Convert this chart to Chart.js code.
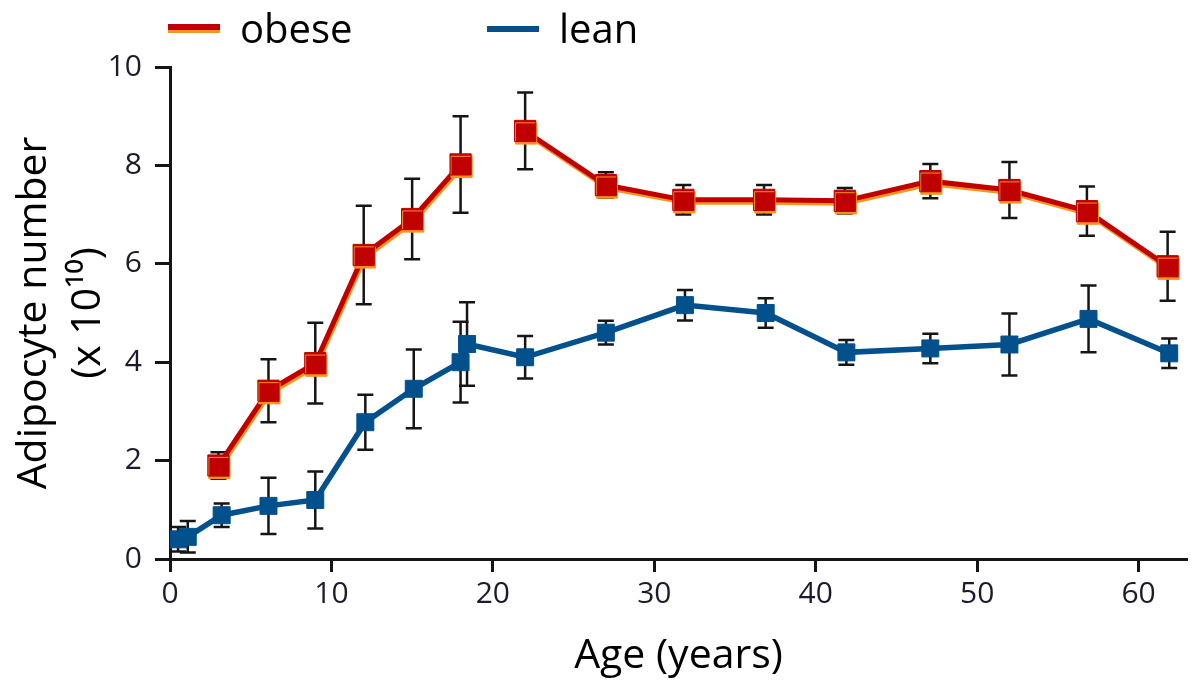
<!DOCTYPE html>
<html>
<head>
<meta charset="utf-8">
<script src="https://cdn.jsdelivr.net/npm/chart.js@4.4.0/dist/chart.umd.min.js"></script>
<style>
  body { margin: 0; background: #fff; }
  #wrap { width: 1203px; height: 681px; }
</style>
</head>
<body>
<div id="wrap"><canvas id="adipo"></canvas></div>
<script>
const obeseAge = [3, 6.1, 9, 12, 15, 18, 20, 22, 27, 31.8, 36.8, 41.8, 47.1, 52, 56.8, 61.8];
const obeseVal = [1.9, 3.42, 3.98, 6.18, 6.91, 8.02, null, 8.7, 7.6, 7.3, 7.3, 7.28, 7.68, 7.5, 7.07, 5.95];
const obeseErr = [0.27, 0.64, 0.82, 1.0, 0.82, 0.98, null, 0.78, 0.26, 0.3, 0.3, 0.26, 0.35, 0.57, 0.5, 0.7];

const leanAge = [0.5, 1.1, 3.2, 6.1, 9, 12.1, 15.1, 18, 18.4, 22, 27, 31.9, 36.9, 41.9, 47.1, 52, 56.9, 61.9];
const leanVal = [0.4, 0.45, 0.89, 1.08, 1.2, 2.78, 3.46, 4.0, 4.37, 4.1, 4.6, 5.16, 5.0, 4.2, 4.28, 4.36, 4.88, 4.18];
const leanErr = [0.25, 0.32, 0.24, 0.57, 0.58, 0.56, 0.8, 0.82, 0.85, 0.43, 0.24, 0.31, 0.3, 0.25, 0.3, 0.63, 0.68, 0.3];

const xTicks = [0, 10, 20, 30, 40, 50, 60];
const yTicks = [0, 2, 4, 6, 8, 10];

const RED = '#C00000';
const ORANGE = '#F7941D';
const BLUE = '#02508C';
const INK = '#151515';
const FONT = "'Open Sans', 'Noto Sans', sans-serif";

function points(ages, vals) {
    return ages.map((a, i) => ({x: a, y: vals[i]}));
}

// error bars, drawn under the lines and markers
const errorBars = {
    id: 'errorBars',
    beforeDatasetsDraw(chart) {
        const ctx = chart.ctx;
        const xs = chart.scales.x, ys = chart.scales.y;
        const sets = [[obeseAge, obeseVal, obeseErr], [leanAge, leanVal, leanErr]];
        ctx.save();
        ctx.strokeStyle = INK;
        ctx.lineWidth = 2.5;
        sets.forEach(([ages, vals, errs]) => {
            ages.forEach((a, i) => {
                if (vals[i] == null) return;
                const px = xs.getPixelForValue(a);
                const top = ys.getPixelForValue(vals[i] + errs[i]);
                const bot = ys.getPixelForValue(vals[i] - errs[i]);
                ctx.beginPath();
                ctx.moveTo(px, top); ctx.lineTo(px, bot);
                ctx.moveTo(px - 8, top); ctx.lineTo(px + 8, top);
                ctx.moveTo(px - 8, bot); ctx.lineTo(px + 8, bot);
                ctx.stroke();
            });
        });
        ctx.restore();
    }
};

// orange edge under the obese series
const orangeEdge = {
    id: 'orangeEdge',
    beforeDatasetDraw(chart, args) {
        if (args.index !== 0) return;
        const ctx = chart.ctx;
        ctx.save();
        ctx.shadowColor = ORANGE;
        ctx.shadowOffsetX = 1;
        ctx.shadowOffsetY = 2.5;
        ctx.shadowBlur = 0;
    },
    afterDatasetDraw(chart, args) {
        if (args.index !== 0) return;
        chart.ctx.restore();
    }
};

// legend above the plot, left aligned as in the figure
const topLegend = {
    id: 'topLegend',
    afterDraw(chart) {
        const ctx = chart.ctx;
        const spots = [168, 487];
        ctx.save();
        chart.data.datasets.forEach((ds, i) => {
            const x = spots[i];
            if (i === 0) {
                ctx.fillStyle = ORANGE;
                ctx.fillRect(x, 27, 52, 6);
            }
            ctx.fillStyle = ds.borderColor;
            ctx.fillRect(x, i === 0 ? 24 : 26, 52, 6);
            ctx.fillStyle = '#000';
            ctx.font = '40px ' + FONT;
            ctx.textBaseline = 'alphabetic';
            ctx.fillText(ds.label, x + 72, 43);
        });
        ctx.restore();
    }
};

new Chart(document.getElementById('adipo'), {
    type: 'line',
    data: {
        datasets: [
            {
                label: 'obese',
                data: points(obeseAge, obeseVal),
                borderColor: RED,
                backgroundColor: RED,
                borderWidth: 5,
                pointStyle: 'rect',
                pointRadius: 15,
                pointBorderWidth: 1,
                pointBorderColor: RED,
                pointBackgroundColor: RED,
                spanGaps: false,
                tension: 0
            },
            {
                label: 'lean',
                data: points(leanAge, leanVal),
                borderColor: BLUE,
                backgroundColor: BLUE,
                borderWidth: 5.5,
                pointStyle: 'rect',
                pointRadius: 12,
                pointBorderWidth: 1,
                pointBorderColor: BLUE,
                pointBackgroundColor: BLUE,
                tension: 0
            }
        ]
    },
    options: {
        responsive: true,
        maintainAspectRatio: false,
        animation: false,
        events: [],
        layout: {
            padding: {top: 67, left: 0, right: 0, bottom: 0}
        },
        plugins: {
            legend: {display: false},
            tooltip: {enabled: false}
        },
        scales: {
            x: {
                type: 'linear',
                min: 0,
                max: 63,
                afterBuildTicks: (s) => { s.ticks = xTicks.map(v => ({value: v})); },
                afterFit: (s) => { s.height = 122; },
                grid: {
                    drawOnChartArea: false,
                    drawTicks: true,
                    tickLength: 13,
                    tickColor: INK,
                    tickWidth: 3
                },
                border: {display: true, color: INK, width: 3},
                ticks: {
                    color: '#1b1b2b',
                    padding: 4,
                    font: {family: FONT, size: 30}
                },
                title: {
                    display: true,
                    text: 'Age (years)',
                    color: '#000',
                    padding: {top: 0, bottom: 0},
                    font: {family: FONT, size: 41}
                }
            },
            y: {
                type: 'linear',
                min: 0,
                max: 10,
                afterBuildTicks: (s) => { s.ticks = yTicks.map(v => ({value: v})); },
                afterFit: (s) => { s.width = 170; },
                grid: {
                    drawOnChartArea: false,
                    drawTicks: true,
                    tickLength: 15,
                    tickColor: INK,
                    tickWidth: 3
                },
                border: {display: true, color: INK, width: 3},
                ticks: {
                    color: '#1b1b2b',
                    padding: 13,
                    font: {family: FONT, size: 30}
                },
                title: {
                    display: true,
                    text: ['Adipocyte number', '(x 10\u00B9\u2070)'],
                    color: '#000',
                    padding: {top: 8, bottom: 0},
                    font: {family: FONT, size: 41, lineHeight: 1.3}
                }
            }
        }
    },
    plugins: [errorBars, orangeEdge, topLegend]
});
</script>
</body>
</html>
